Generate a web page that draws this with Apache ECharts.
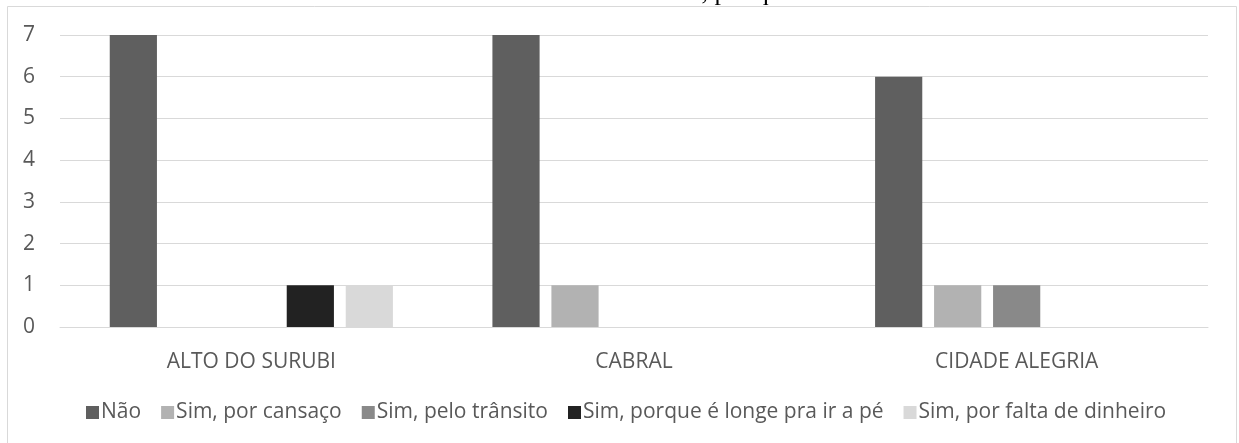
<!DOCTYPE html>
<html>
<head>
<meta charset="utf-8">
<script src="https://cdn.jsdelivr.net/npm/echarts@6/dist/echarts.min.js"></script>
<style>
  html, body { margin: 0; padding: 0; background: #ffffff; }
  #chart { width: 1239px; height: 443px; }
</style>
</head>
<body>
<div id="chart"></div>
<script>
// Bairros (eixo X)
const categories = ['ALTO DO SURUBI', 'CABRAL', 'CIDADE ALEGRIA'];

// Respostas por bairro
const seriesNames = [
  'Não',
  'Sim, por cansaço',
  'Sim, pelo trânsito',
  'Sim, porque é longe pra ir a pé',
  'Sim, por falta de dinheiro'
];
const nao        = [7, 7, 6];
const cansaco    = [0, 1, 1];
const transito   = [0, 0, 1];
const longe      = [1, 0, 0];
const faltaDinheiro = [1, 0, 0];

const yTicks = [0, 1, 2, 3, 4, 5, 6, 7];

const titleText = 'Você faltou à aula, por quê?';

const colors = ['#5f5f5f', '#b2b2b2', '#898989', '#222222', '#d9d9d9'];
const values = [nao, cansaco, transito, longe, faltaDinheiro];

const font = '"Open Sans", "Liberation Sans", sans-serif';

const chart = echarts.init(document.getElementById('chart'), null, { renderer: 'canvas' });

chart.setOption({
  animation: false,
  backgroundColor: '#ffffff',
  graphic: [
    {
      type: 'text',
      left: 515,
      top: -20,
      style: {
        text: titleText,
        font: '26px "Liberation Serif", "Times New Roman", serif',
        fill: '#000000'
      },
      z: 1
    },
    {
      type: 'rect',
      shape: { x: 7.5, y: 6.5, width: 1229, height: 460 },
      style: { fill: 'none', stroke: '#d9d9d9', lineWidth: 1 },
      z: 2,
      silent: true
    }
  ],
  grid: { left: 60, right: 31, top: 35, bottom: 116, containLabel: false },
  legend: {
    data: seriesNames,
    bottom: 15,
    left: 81,
    itemWidth: 13,
    itemHeight: 13,
    itemGap: 20,
    icon: 'rect',
    textStyle: { color: '#595959', fontSize: 21, fontFamily: font, padding: [0, 0, 0, -3] }
  },
  xAxis: {
    type: 'category',
    data: categories,
    axisLine: { lineStyle: { color: '#d9d9d9', width: 1 } },
    axisTick: { show: false },
    axisLabel: { color: '#595959', fontSize: 21, fontFamily: font, margin: 25 }
  },
  yAxis: {
    type: 'value',
    min: yTicks[0],
    max: yTicks[yTicks.length - 1],
    interval: 1,
    axisLine: { show: false },
    axisTick: { show: false },
    splitLine: { lineStyle: { color: '#d9d9d9', width: 1 } },
    axisLabel: { color: '#595959', fontSize: 21, fontFamily: font, margin: 25 }
  },
  series: seriesNames.map((name, i) => ({
    name: name,
    type: 'bar',
    data: values[i],
    barGap: '25%',
    barCategoryGap: '26%',
    itemStyle: { color: colors[i] }
  }))
});
</script>
</body>
</html>
